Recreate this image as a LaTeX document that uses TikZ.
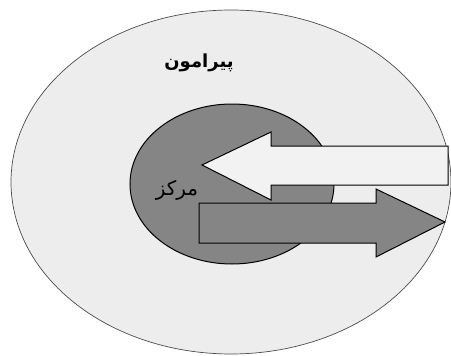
\documentclass[tikz,border=0pt]{standalone}
\usepackage{fontspec}
\newfontfamily\farsifont[Script=Arabic]{DejaVu Sans}
\TeXXeTstate=1
\definecolor{outerfill}{gray}{0.93}
\definecolor{corefill}{gray}{0.52}
\definecolor{arrowfill}{gray}{0.95}
\begin{document}
\begin{tikzpicture}[x=1pt,y=-1pt]
  \useasboundingbox (0,0) rectangle (451,356);
  \draw[fill=outerfill, draw=black!70, line width=0.7pt] (231,182) ellipse (220 and 172);
  \draw[fill=corefill, line width=1pt] (232,184) ellipse (102 and 80);
  \draw[fill=arrowfill, line width=1pt] (202,165) -- (271,132) -- (271,146) -- (448,146) -- (448,185) -- (271,185) -- (271,200) -- cycle;
  \draw[fill=corefill, line width=1pt] (445,222) -- (376,189) -- (376,203) -- (199,203) -- (199,243) -- (376,243) -- (376,257) -- cycle;
  \node[font=\farsifont\bfseries\fontsize{18}{21}\selectfont] (periphery) at (199,63) {\beginR پیرامون\endR};
  \node[font=\farsifont\fontsize{20}{24}\selectfont] (core) at (177,190) {\beginR مرکز\endR};
\end{tikzpicture}
\end{document}
